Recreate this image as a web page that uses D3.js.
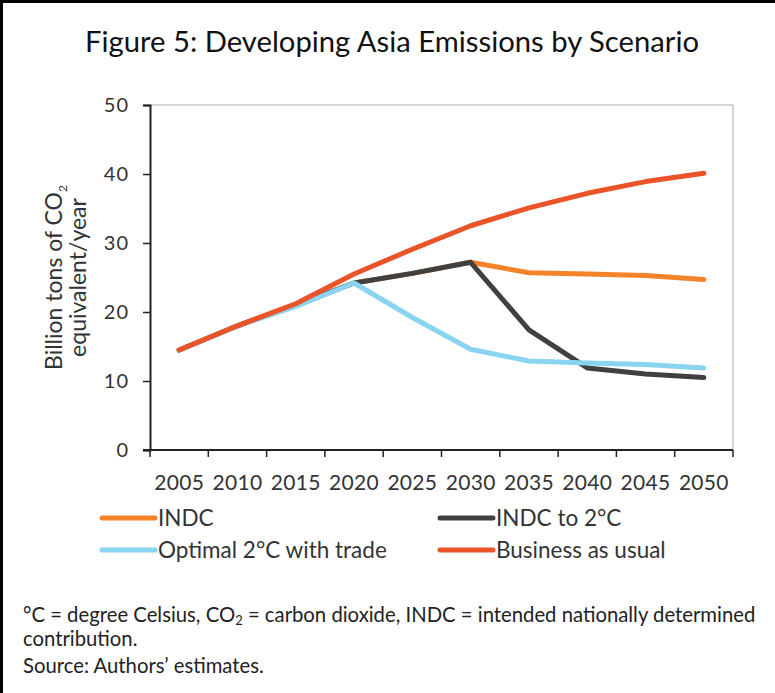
<!DOCTYPE html>
<html>
<head>
<meta charset="utf-8">
<script src="https://cdn.jsdelivr.net/npm/d3@7"></script>
<style>
  html, body { margin: 0; padding: 0; background: #fff; }
  svg { display: block; font-family: Lato, "Open Sans", sans-serif; }
</style>
</head>
<body>
<svg id="chart" width="775" height="693"></svg>
<script>
const years = ["2005","2010","2015","2020","2025","2030","2035","2040","2045","2050"];
const indc     = [14.5, 18.0, 21.0, 24.2, 25.6, 27.2, 25.7, 25.5, 25.3, 24.7];
const indc2c   = [14.5, 18.0, 21.0, 24.2, 25.6, 27.2, 17.4, 11.9, 11.0, 10.5];
const optimal  = [14.5, 18.0, 20.8, 24.2, 19.2, 14.6, 12.9, 12.6, 12.4, 11.9];
const bau      = [14.5, 18.0, 21.2, 25.5, 29.1, 32.5, 35.1, 37.2, 38.9, 40.1];
const yTicks = [0, 10, 20, 30, 40, 50];
const seriesNames = ["INDC", "INDC to 2°C", "Optimal 2°C with trade", "Business as usual"];
const seriesColors = ["#F5832A", "#404040", "#88D4F1", "#EB5329"];

const series = [
  {name: seriesNames[0], color: seriesColors[0], values: indc},
  {name: seriesNames[1], color: seriesColors[1], values: indc2c},
  {name: seriesNames[2], color: seriesColors[2], values: optimal},
  {name: seriesNames[3], color: seriesColors[3], values: bau}
];

const svg = d3.select("#chart");
const W = 775, H = 693;
const m = {left: 150, right: 42, top: 105, bottom: 243};
const x = d3.scaleBand().domain(years).range([m.left, W - m.right]).padding(0);
const y = d3.scaleLinear().domain([0, 50]).range([H - m.bottom, m.top]);

// frame (top and left)
svg.append("line").attr("x1", 0).attr("x2", W).attr("y1", 1.5).attr("y2", 1.5)
  .attr("stroke", "#000").attr("stroke-width", 3);
svg.append("line").attr("x1", 1.5).attr("x2", 1.5).attr("y1", 0).attr("y2", H)
  .attr("stroke", "#000").attr("stroke-width", 3);

// title
svg.append("text").attr("x", 392).attr("y", 52).attr("text-anchor", "middle")
  .attr("font-size", 29).attr("fill", "#111")
  .attr("textLength", 614).attr("lengthAdjust", "spacingAndGlyphs")
  .text("Figure 5: Developing Asia Emissions by Scenario");

// plot border top/right
svg.append("path")
  .attr("d", `M${x.range()[0]},${y(50)}H${x.range()[1]}V${y(0)}`)
  .attr("fill", "none").attr("stroke", "#aaa").attr("stroke-width", 1);

// y axis
const yAxis = d3.axisLeft(y).tickValues(yTicks).tickSize(7).tickPadding(14);
const gy = svg.append("g").attr("transform", `translate(${m.left},0)`).call(yAxis);
gy.select(".domain").attr("stroke", "#222").attr("stroke-width", 2);
gy.selectAll(".tick line").attr("stroke", "#222").attr("stroke-width", 1.5);
gy.selectAll(".tick text").attr("font-size", 20).attr("fill", "#333")
  .attr("letter-spacing", 1)
  .attr("font-family", "Lato, sans-serif");

// x axis: ticks at band edges
const gx = svg.append("g").attr("transform", `translate(0,${y(0)})`);
gx.append("line").attr("x1", x.range()[0] - 7).attr("x2", x.range()[1])
  .attr("stroke", "#222").attr("stroke-width", 2);
const edges = years.map(d => x(d)).concat([x.range()[1]]);
gx.selectAll("line.tk").data(edges).enter().append("line").attr("class", "tk")
  .attr("x1", d => d).attr("x2", d => d).attr("y1", 0).attr("y2", 7)
  .attr("stroke", "#222").attr("stroke-width", 1.5);
gx.selectAll("text.lbl").data(years).enter().append("text").attr("class", "lbl")
  .attr("x", d => x(d) + x.bandwidth() / 2).attr("y", 40)
  .attr("text-anchor", "middle").attr("font-size", 21).attr("fill", "#333")
  .attr("letter-spacing", 0.3)
  .text(d => d);

// y axis title
const cy = (y(0) + y(50)) / 2;
const yt = svg.append("text").attr("transform", `translate(62,${cy}) rotate(-90)`)
  .attr("text-anchor", "middle").attr("font-size", 23).attr("fill", "#333");
yt.append("tspan").text("Billion tons of CO");
yt.append("tspan").attr("font-size", 12).attr("dy", 5).text("2");
svg.append("text").attr("transform", `translate(86,${cy}) rotate(-90)`)
  .attr("text-anchor", "middle").attr("font-size", 23).attr("fill", "#333")
  .text("equivalent/year");

// lines
const line = d3.line().x((d, i) => x(years[i]) + x.bandwidth() / 2).y(d => y(d));
svg.append("g").selectAll("path").data(series).enter().append("path")
  .attr("d", d => line(d.values))
  .attr("fill", "none").attr("stroke", d => d.color).attr("stroke-width", 5)
  .attr("stroke-linecap", "round").attr("stroke-linejoin", "round");

// legend
const legPos = [[102, 518], [440, 518], [102, 550], [440, 550]];
const lg = svg.append("g").selectAll("g").data(series).enter().append("g")
  .attr("transform", (d, i) => `translate(${legPos[i][0]},${legPos[i][1]})`);
lg.append("line").attr("x1", 0).attr("x2", 53).attr("y1", 0).attr("y2", 0)
  .attr("stroke", d => d.color).attr("stroke-width", 5).attr("stroke-linecap", "round");
lg.append("text").attr("x", 56).attr("y", 8).attr("font-size", 22.5).attr("fill", "#333")
  .text(d => d.name);

// footnote
const fs = 20.3;
const fn = svg.append("text").attr("x", 23).attr("y", 622).attr("font-size", fs).attr("fill", "#222");
fn.append("tspan").text("°C = degree Celsius, CO");
fn.append("tspan").attr("font-size", 13).attr("dy", 3).text("2");
fn.append("tspan").attr("dy", -3).text(" = carbon dioxide, INDC = intended nationally determined");
svg.append("text").attr("x", 23).attr("y", 646).attr("font-size", fs).attr("fill", "#222")
  .text("contribution.");
svg.append("text").attr("x", 23).attr("y", 673).attr("font-size", fs).attr("fill", "#222")
  .text("Source: Authors’ estimates.");
</script>
</body>
</html>
